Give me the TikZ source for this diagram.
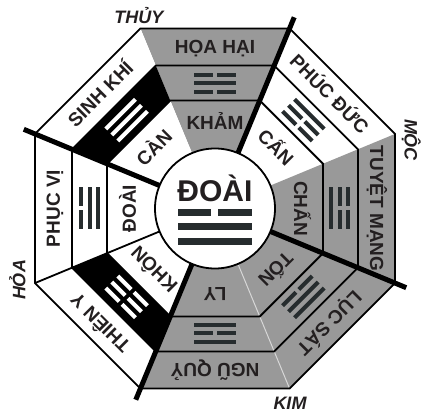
\documentclass[tikz,border=0pt]{standalone}
\usepackage{fontspec}
\setmainfont{Liberation Sans}
\usepackage{tikz}
\usetikzlibrary{calc}
\definecolor{cGray}{RGB}{153,153,153}
\definecolor{cInk}{RGB}{35,31,32}
\definecolor{cBar}{RGB}{38,44,46}
\definecolor{cSoft}{RGB}{215,215,215}
\newcommand{\rOut}{194.83}
\newcommand{\rMid}{154.78}
\newcommand{\rIn}{116.9}
\tikzset{
	ringline/.style ={line width=1.8pt, draw=black, line join=miter},
	crossline/.style={line width=5pt, draw=black},
	softline/.style ={line width=1pt, draw=cSoft},
	% labels
	outerlbl/.style ={font=\fontsize{19}{19}\selectfont\bfseries, text=cInk, inner sep=0pt, text height=13.6pt, text depth=0pt},
	innerlbl/.style ={font=\fontsize{19}{19}\selectfont\bfseries, text=cInk, inner sep=0pt, text height=13.6pt, text depth=0pt},
	elemlbl/.style  ={font=\fontsize{18}{18}\selectfont\bfseries\itshape, text=cInk, inner sep=0pt, text height=12.9pt, text depth=0pt},
	centrelbl/.style={font=\fontsize{30}{30}\selectfont\bfseries, text=cInk, inner sep=0pt, text height=21.5pt, text depth=0pt},
}
% trigram: [scale] angle, radius, lines top to bottom (1 = solid), colour
\newcommand{\drawgua}[5][1]{%
	\begin{scope}[shift={(#2:#3)}, rotate=#2-90, scale=#1]
		\foreach \v [count=\i from 0] in {#4} {
			\pgfmathsetmacro{\yy}{8.5*(1-\i)}
			\ifnum\v=1
				\fill[#5] (-21,\yy-2) rectangle (21,\yy+2);
			\else
				\fill[#5] (-21,\yy-2) rectangle (-2,\yy+2);
				\fill[#5] (2,\yy-2) rectangle (21,\yy+2);
			\fi
		}
	\end{scope}}

\begin{document}
\begin{tikzpicture}[x=1pt, y=1pt]
	\useasboundingbox (-215,-206.5) rectangle (206,208.5);
	% sector fills: angle / outer / middle / inner
	\foreach \a/\co/\cm/\ci in {90/cGray/cGray/cGray, 45/white/white/white, 0/cGray/cGray/cGray, -45/cGray/cGray/cGray, -90/cGray/cGray/cGray, -135/white/black/white, 180/white/white/white, 135/white/black/white}{
		\fill[\co] (\a-22.5:\rOut) -- (\a+22.5:\rOut) -- (\a+22.5:\rMid) -- (\a-22.5:\rMid) -- cycle;
		\fill[\cm] (\a-22.5:\rMid) -- (\a+22.5:\rMid) -- (\a+22.5:\rIn) -- (\a-22.5:\rIn) -- cycle;
		\fill[\ci] (\a-22.5:\rIn) -- (\a+22.5:\rIn) -- (\a+22.5:60) arc[start angle=\a+22.5, end angle=\a-22.5, radius=60pt] -- cycle;
	}
	\draw[softline] (-67.5:60) -- (-67.5:\rOut);
	% rings
	\foreach \r in {\rOut,\rMid,\rIn}
		\draw[ringline] (22.5:\r) -- (67.5:\r) -- (112.5:\r) -- (157.5:\r) -- (202.5:\r) -- (247.5:\r) -- (292.5:\r) -- (337.5:\r) -- cycle;
	\draw[ringline] (-157.5:60) -- (-157.5:\rOut);
	\foreach \a in {67.5,157.5,247.5,337.5}
		\draw[crossline] (\a:55) -- (\a:207);
	\draw[ringline, fill=white] (0,0) circle (60pt);
	% names
	\foreach \a/\t [count=\i] in {90/HỌA HẠI, 45/PHÚC ĐỨC, 0/TUYỆT MẠNG, -45/LỤC SÁT, -90/NGŨ QUỶ, -135/THIÊN Y, 180/PHỤC VỊ, 135/SINH KHÍ}
		\node[outerlbl, rotate=\a-90] (star\i) at (\a:162) {\t};
	\foreach \a/\t [count=\i] in {90/KHẢM, 45/CẤN, 0/CHẤN, -45/TỐN, -90/LY, -135/KHÔN, 180/ĐOÀI, 135/CÀN}
		\node[innerlbl, rotate=\a-90] (gua\i) at (\a:86) {\t};
	% trigrams
	\drawgua{90}{125}{0,1,0}{cBar}
	\drawgua{45}{125}{1,0,0}{cBar}
	\drawgua{0}{125}{0,0,1}{cBar}
	\drawgua{-45}{125}{1,1,0}{cBar}
	\drawgua{-90}{125}{1,0,1}{cBar}
	\drawgua{-135}{125}{0,0,0}{white}
	\drawgua{180}{125}{0,1,1}{cBar}
	\drawgua{135}{125}{1,1,1}{white}
	% centre
	\node[centrelbl] (doai) at (0,17.5) {ĐOÀI};
	\drawgua[1.75]{90}{-18.5}{0,1,1}{cBar}
	% elements
	\node[elemlbl] (thuy) at (-76,191.5) {THỦY};
	\node[elemlbl, rotate=-90] (moc) at (196,68.5) {MỘC};
	\node[elemlbl] (kim) at (75,-194.5) {KIM};
	\node[elemlbl, rotate=90] (hoa) at (-196,-71.5) {HỎA};
\end{tikzpicture}
\end{document}
